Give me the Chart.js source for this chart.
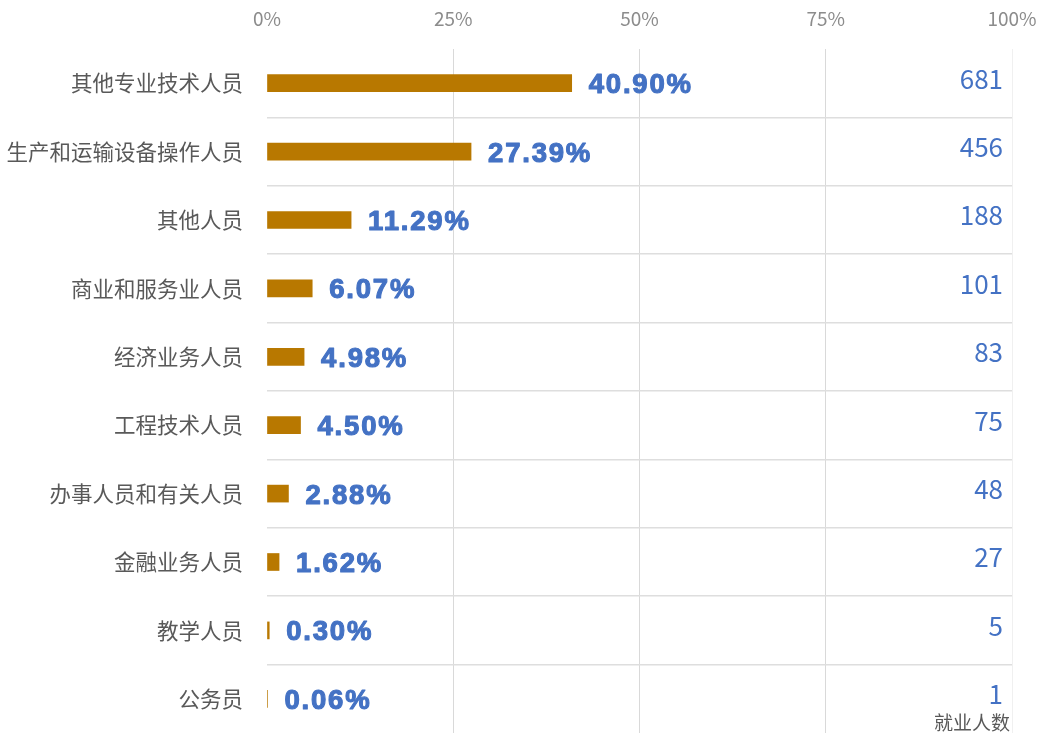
<!DOCTYPE html>
<html>
<head>
<meta charset="utf-8">
<script src="https://cdn.jsdelivr.net/npm/chart.js@4.4.1/dist/chart.umd.min.js"></script>
<style>
  html, body { margin: 0; padding: 0; background: #ffffff; }
  #wrap { width: 1041px; height: 733px; }
</style>
</head>
<body>
<div id="wrap"><canvas id="c" width="1041" height="733"></canvas></div>
<script>
const categories = ['其他专业技术人员', '生产和运输设备操作人员', '其他人员', '商业和服务业人员', '经济业务人员', '工程技术人员', '办事人员和有关人员', '金融业务人员', '教学人员', '公务员'];
const percents = [40.90, 27.39, 11.29, 6.07, 4.98, 4.50, 2.88, 1.62, 0.30, 0.06];
const counts = [681, 456, 188, 101, 83, 75, 48, 27, 5, 1];
const xTicks = [0, 25, 50, 75, 100];
const countTitle = '就业人数';

const labelPlugin = {
  id: 'labelPlugin',
  afterDatasetsDraw(chart) {
    const ctx = chart.ctx;
    const meta = chart.getDatasetMeta(0);
    const xs = chart.scales.x;
    const rightX = xs.getPixelForValue(100) - 9;
    ctx.save();
    meta.data.forEach((el, i) => {
      const txt = percents[i].toFixed(2) + '%';
      ctx.font = 'bold 27.5px "Liberation Sans", Arial, sans-serif';
      ctx.letterSpacing = '1.8px';
      ctx.fillStyle = '#4472C4';
      ctx.strokeStyle = '#4472C4';
      ctx.lineWidth = 1.1;
      ctx.lineJoin = 'round';
      ctx.textAlign = 'left';
      ctx.textBaseline = 'middle';
      ctx.fillText(txt, el.x + 17, el.y + 2.5);
      ctx.strokeText(txt, el.x + 17, el.y + 2.5);
      ctx.letterSpacing = '0px';
      ctx.font = '26px "Noto Sans CJK SC", sans-serif';
      ctx.textAlign = 'right';
      ctx.fillText(String(counts[i]), rightX, el.y - 4.5);
    });
    ctx.font = '19px "Noto Sans CJK SC", sans-serif';
    ctx.fillStyle = '#595959';
    ctx.textAlign = 'right';
    ctx.textBaseline = 'top';
    ctx.fillText(countTitle, xs.getPixelForValue(100) - 2, 713);
    ctx.restore();
  }
};

new Chart(document.getElementById('c'), {
  type: 'bar',
  data: {
    labels: categories,
    datasets: [{
      data: percents,
      backgroundColor: '#B87800',
      borderWidth: 0,
      barThickness: 17
    }]
  },
  options: {
    indexAxis: 'y',
    responsive: false,
    animation: false,
    layout: { padding: { left: 0, right: 29, top: 0, bottom: 0 } },
    plugins: { legend: { display: false }, tooltip: { enabled: false } },
    scales: {
      x: {
        position: 'top',
        min: 0,
        max: 100,
        afterBuildTicks: (s) => { s.ticks = xTicks.map(v => ({ value: v })); },
        afterFit: (s) => { s.height = 49; s.paddingLeft = 0; s.paddingRight = 0; },
        border: { display: false },
        grid: {
          drawTicks: false,
          lineWidth: 1,
          color: (c) => c.index === 0 ? 'rgba(0,0,0,0)' : (c.index === 4 ? '#f0f0f0' : '#d9d9d9')
        },
        ticks: {
          padding: 19,
          color: '#8c8c8c',
          font: { family: '"Noto Sans CJK SC", sans-serif', size: 19 },
          callback: (v) => v + '%'
        }
      },
      y: {
        afterFit: (s) => { s.width = 267; s.paddingTop = 0; s.paddingBottom = 0; },
        border: { display: false },
        grid: {
          offset: true,
          drawTicks: false,
          lineWidth: 1.5,
          color: (c) => (c.type !== 'tick' || c.index === 0) ? 'rgba(0,0,0,0)' : '#dedede'
        },
        ticks: {
          padding: 24,
          color: '#595959',
          font: { family: '"Noto Sans CJK SC", sans-serif', size: 21.5 }
        }
      }
    }
  },
  plugins: [labelPlugin]
});
</script>
</body>
</html>
